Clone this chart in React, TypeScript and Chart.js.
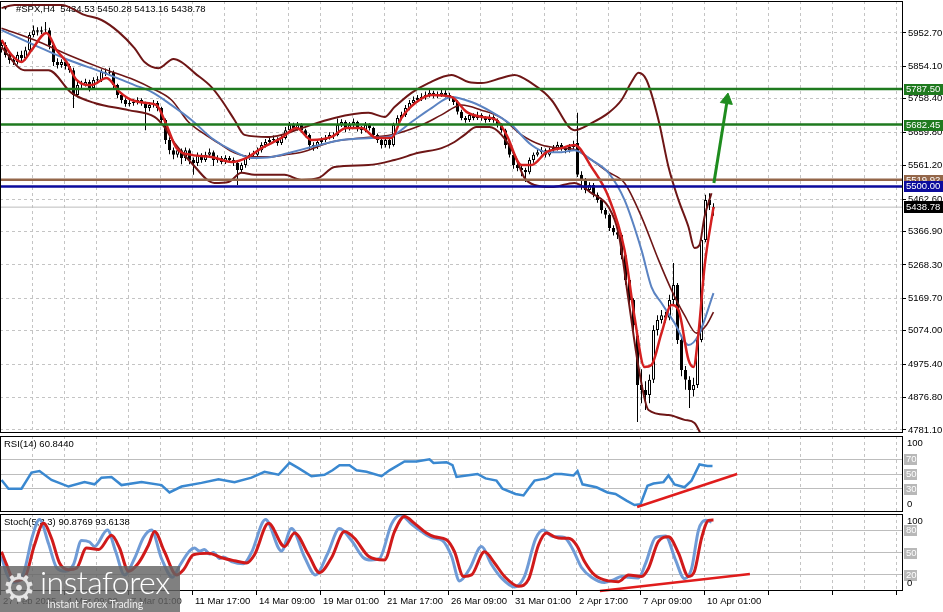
import React, { useEffect, useRef } from "react";
import { Chart, registerables } from "chart.js";
Chart.register(...registerables);

const FONT = "'Liberation Sans', 'DejaVu Sans', Arial, sans-serif";

// ---------------- data ----------------
const symbolName = "#SPX,H4";
const xTickLabels = ["27 Feb 2025", "4 Mar 09:00", "7 Mar 01:00", "11 Mar 17:00", "14 Mar 09:00", "19 Mar 01:00",
  "21 Mar 17:00", "26 Mar 09:00", "31 Mar 01:00", "2 Apr 17:00", "7 Apr 09:00", "10 Apr 01:00"];
const priceTicks = [5952.7, 5854.1, 5758.4, 5659.8, 5561.2, 5462.6, 5366.9, 5268.3, 5169.7, 5074.0, 4975.4, 4876.8, 4781.1];

const opens = [
  5905, 5917, 5888, 5873, 5867, 5888, 5879, 5902, 5947, 5961,
  5956, 5961, 5961, 5917, 5867, 5858, 5867, 5855, 5843, 5770,
  5799, 5799, 5808, 5790, 5814, 5814, 5838, 5835, 5838, 5799,
  5770, 5755, 5743, 5746, 5749, 5755, 5746, 5731, 5740, 5746,
  5731, 5696, 5637, 5607, 5593, 5607, 5584, 5607, 5578, 5569,
  5593, 5578, 5593, 5601, 5578, 5584, 5572, 5584, 5578, 5569,
  5548, 5563, 5584, 5593, 5593, 5607, 5622, 5631, 5637, 5637,
  5628, 5643, 5666, 5681, 5672, 5681, 5666, 5652, 5622, 5616,
  5631, 5637, 5643, 5652, 5652, 5681, 5690, 5672, 5681, 5690,
  5672, 5666, 5681, 5672, 5652, 5637, 5622, 5637, 5622, 5681,
  5702, 5711, 5731, 5746, 5755, 5761, 5764, 5770, 5776, 5767,
  5770, 5776, 5770, 5761, 5749, 5720, 5702, 5696, 5711, 5702,
  5711, 5702, 5696, 5705, 5696, 5681, 5666, 5622, 5593, 5563,
  5554, 5548, 5542, 5578, 5593, 5601, 5607, 5593, 5607, 5613,
  5622, 5613, 5607, 5616, 5628, 5534, 5519, 5489, 5504, 5475,
  5460, 5430, 5416, 5377, 5365, 5357, 5297, 5224, 5165, 5060,
  4914, 4899, 4884, 4929, 5076, 5106, 5120, 5112, 5165, 5209,
  5047, 4958, 4929, 4899, 4914, 5047, 5342, 5460, 5434.53];
const highs = [
  5930, 5925, 5895, 5885, 5897, 5900, 5912, 5955, 5975, 5970,
  5972, 5985, 5968, 5922, 5878, 5875, 5872, 5862, 5850, 5808,
  5812, 5818, 5815, 5822, 5825, 5846, 5848, 5850, 5842, 5803,
  5775, 5760, 5755, 5758, 5763, 5760, 5750, 5748, 5755, 5752,
  5735, 5700, 5645, 5615, 5618, 5612, 5615, 5612, 5585, 5600,
  5598, 5602, 5612, 5606, 5592, 5590, 5592, 5590, 5585, 5575,
  5570, 5592, 5600, 5605, 5615, 5630, 5640, 5648, 5650, 5645,
  5652, 5675, 5690, 5688, 5690, 5686, 5670, 5656, 5630, 5640,
  5645, 5652, 5660, 5660, 5700, 5698, 5695, 5690, 5700, 5694,
  5678, 5690, 5686, 5676, 5656, 5642, 5645, 5640, 5688, 5710,
  5720, 5740, 5755, 5765, 5770, 5775, 5780, 5786, 5782, 5780,
  5788, 5784, 5776, 5766, 5754, 5726, 5708, 5718, 5716, 5720,
  5716, 5708, 5712, 5710, 5700, 5686, 5670, 5628, 5598, 5570,
  5560, 5555, 5585, 5600, 5610, 5616, 5612, 5615, 5622, 5632,
  5628, 5618, 5625, 5635, 5717, 5545, 5525, 5512, 5510, 5482,
  5465, 5436, 5420, 5385, 5372, 5362, 5302, 5230, 5170, 5068,
  4960, 4925, 4945, 5090, 5120, 5135, 5130, 5180, 5274, 5215,
  5055, 4970, 4940, 4935, 5060, 5350, 5475, 5480, 5450.28];
const lows = [
  5895, 5880, 5862, 5858, 5860, 5870, 5872, 5896, 5940, 5945,
  5950, 5952, 5905, 5855, 5848, 5850, 5845, 5835, 5731, 5762,
  5790, 5795, 5780, 5785, 5805, 5808, 5826, 5828, 5790, 5760,
  5745, 5735, 5736, 5738, 5742, 5738, 5666, 5722, 5733, 5722,
  5688, 5625, 5595, 5580, 5585, 5565, 5575, 5565, 5534, 5560,
  5570, 5572, 5588, 5560, 5570, 5565, 5566, 5570, 5560, 5504,
  5540, 5555, 5578, 5585, 5588, 5600, 5615, 5625, 5628, 5620,
  5622, 5638, 5660, 5665, 5665, 5658, 5645, 5610, 5605, 5610,
  5625, 5630, 5638, 5640, 5648, 5675, 5660, 5665, 5675, 5662,
  5655, 5660, 5665, 5645, 5628, 5612, 5615, 5612, 5618, 5675,
  5695, 5705, 5725, 5740, 5748, 5752, 5756, 5762, 5760, 5760,
  5764, 5762, 5752, 5740, 5712, 5695, 5688, 5690, 5695, 5696,
  5694, 5688, 5690, 5688, 5674, 5658, 5612, 5585, 5552, 5545,
  5530, 5513, 5536, 5570, 5588, 5595, 5585, 5588, 5600, 5606,
  5605, 5598, 5600, 5610, 5528, 5490, 5480, 5482, 5468, 5452,
  5420, 5405, 5368, 5355, 5345, 5285, 5210, 5150, 5075, 4805,
  4860, 4840, 4860, 4920, 5060, 5095, 5098, 5105, 5150, 5035,
  4940, 4900, 4846, 4880, 4905, 5040, 5335, 5430, 5413.16];
const closes = [
  5917, 5888, 5873, 5867, 5888, 5879, 5902, 5947, 5961, 5956,
  5961, 5963, 5917, 5867, 5858, 5867, 5855, 5843, 5770, 5799,
  5801, 5808, 5790, 5814, 5816, 5838, 5835, 5838, 5799, 5770,
  5755, 5743, 5746, 5749, 5755, 5746, 5731, 5740, 5746, 5731,
  5696, 5637, 5607, 5593, 5607, 5584, 5607, 5578, 5569, 5593,
  5578, 5593, 5601, 5578, 5584, 5572, 5584, 5578, 5569, 5548,
  5563, 5584, 5593, 5595, 5607, 5622, 5631, 5637, 5640, 5628,
  5643, 5666, 5681, 5672, 5681, 5666, 5652, 5622, 5616, 5631,
  5637, 5643, 5652, 5650, 5681, 5690, 5672, 5681, 5690, 5672,
  5666, 5681, 5672, 5652, 5637, 5622, 5637, 5622, 5681, 5702,
  5711, 5731, 5746, 5755, 5761, 5764, 5770, 5776, 5767, 5770,
  5776, 5770, 5761, 5749, 5720, 5702, 5696, 5711, 5702, 5711,
  5702, 5696, 5705, 5696, 5681, 5666, 5622, 5593, 5563, 5554,
  5548, 5542, 5578, 5593, 5601, 5607, 5593, 5607, 5613, 5622,
  5613, 5607, 5616, 5622, 5534, 5519, 5489, 5504, 5475, 5460,
  5430, 5416, 5377, 5365, 5357, 5297, 5224, 5165, 5091, 4914,
  4899, 4884, 4929, 5076, 5106, 5120, 5112, 5165, 5209, 5047,
  4958, 4929, 4899, 4914, 5047, 5342, 5460, 5445, 5438.78];

const upperBandX = [0, 3.25, 15, 20.75, 25, 29.25, 33.25, 35.75, 39.25, 43, 45, 48.25, 52.5, 55, 58.25, 60.75, 66.75, 70, 75, 83.25, 91.75, 95.75, 98.25, 102.5, 106.75, 112.5, 116.75, 120, 125, 128.25, 132.5, 135.75, 137.5, 143.25, 147.5, 151.75, 155, 157.5, 159.25, 161.25, 164.25, 166.75, 169.25, 171.75, 173.25, 174.5, 175.75, 177.5];
const upperBand = [6026, 6035, 6035, 6006, 5991, 5956, 5908, 5867, 5849, 5876, 5867, 5835, 5793, 5755, 5696, 5652, 5646, 5652, 5672, 5702, 5717, 5705, 5734, 5776, 5805, 5829, 5808, 5805, 5820, 5829, 5805, 5776, 5755, 5666, 5687, 5717, 5755, 5808, 5835, 5814, 5696, 5557, 5460, 5380, 5318, 5327, 5410, 5480];
const lowerBandX = [0, 5.75, 11.75, 17.5, 23.25, 31.75, 38.25, 40.75, 43.25, 47.5, 53.25, 56.75, 60, 63.25, 70.75, 75, 79.25, 83.25, 91.75, 98.25, 104.25, 110, 113.25, 115.75, 118.75, 122, 125, 128.25, 130.75, 133.25, 137.5, 143.25, 147.5, 151.75, 154.25, 156.75, 159.25, 161.75, 166.75, 170.75, 173.25, 175];
const lowerBand = [5911, 5843, 5843, 5776, 5746, 5725, 5705, 5675, 5628, 5569, 5510, 5513, 5540, 5534, 5534, 5519, 5525, 5557, 5563, 5578, 5599, 5613, 5631, 5652, 5675, 5675, 5652, 5593, 5525, 5504, 5498, 5510, 5480, 5439, 5362, 5165, 4967, 4840, 4825, 4811, 4802, 4765];
const middleBandX = [0, 8.25, 16.75, 25, 33.25, 37.5, 42.5, 46.75, 50, 54.25, 58.25, 62.5, 66.75, 70.75, 75, 82.5, 90, 97.5, 105, 110, 115, 120, 125, 130, 135, 140, 143.75, 147.5, 151.75, 155.75, 160, 164.25, 167.5, 170.75, 173.75, 176.25, 178];
const middleBand = [5967, 5932, 5888, 5849, 5814, 5790, 5755, 5690, 5660, 5628, 5599, 5587, 5587, 5593, 5601, 5631, 5643, 5652, 5681, 5711, 5740, 5725, 5702, 5652, 5622, 5613, 5607, 5578, 5542, 5510, 5410, 5283, 5194, 5120, 5067, 5091, 5129];
const blueMaX = [0, 8.25, 16.75, 25, 33.25, 37.5, 42.5, 47.5, 52.5, 57.5, 62.5, 67.5, 72.5, 77.5, 85, 92.5, 97.5, 102.5, 107.5, 112.5, 117.5, 122.5, 127.5, 132.5, 136.25, 140, 143.25, 147.5, 151.75, 155.75, 160, 162.5, 165, 168.25, 171.75, 174.25, 178];
const blueMa = [5961, 5917, 5873, 5838, 5799, 5779, 5740, 5696, 5643, 5607, 5584, 5587, 5601, 5616, 5637, 5643, 5649, 5690, 5731, 5764, 5749, 5720, 5681, 5622, 5601, 5601, 5607, 5578, 5540, 5460, 5312, 5203, 5156, 5097, 5032, 5061, 5185];
const redMaX = [0, 2.5, 5, 7.5, 11.25, 13.75, 16.25, 18.75, 22.5, 26.25, 29.5, 32.5, 36.25, 38.75, 41.25, 43.75, 47.5, 52.5, 57.5, 61.25, 65, 70, 73.75, 77.5, 82.5, 86.25, 90, 93.75, 97.5, 100, 103.75, 107.5, 112.5, 116.25, 120, 123.75, 126.25, 130, 132.5, 136.25, 140, 143.25, 147.5, 151.75, 155.75, 158.25, 160.75, 162.5, 165, 167.5, 169.25, 171.75, 173, 174.25, 175.75, 178];
const redMa = [5932, 5888, 5867, 5902, 5953, 5902, 5867, 5814, 5799, 5820, 5779, 5755, 5746, 5740, 5681, 5613, 5593, 5587, 5572, 5584, 5613, 5643, 5672, 5637, 5646, 5672, 5672, 5643, 5643, 5702, 5749, 5770, 5764, 5720, 5705, 5696, 5652, 5563, 5563, 5601, 5613, 5622, 5557, 5469, 5312, 5115, 4967, 4973, 5067, 5150, 5135, 4988, 4967, 5067, 5262, 5439];

const levelValues = [5787.5, 5682.45, 5519.92, 5500.0];
const arrowX = [178.1, 181.3];
const arrowY = [5510, 5745];
const arrowHeadX = [181.35];
const arrowHeadY = [5755];

const rsiX = [0, 1.75, 5, 7.5, 9.5, 12.5, 16.75, 20.75, 23.25, 25, 27.5, 30, 35, 40, 42, 45, 50, 54.25, 58.25, 62.5, 65.75, 69.25, 72, 74.25, 77.5, 80.75, 82.75, 84.5, 87, 88.75, 91.25, 95, 97, 100.75, 103.75, 107, 108, 111.25, 112.75, 113.75, 116.25, 119, 121, 123.75, 125.25, 128.5, 130.5, 132, 133.25, 136.25, 138.25, 140, 143, 144, 145.25, 148.75, 151.5, 153.5, 156.25, 158.25, 159.75, 161.5, 163, 165.5, 166.75, 168.25, 170.75, 172.5, 174.5, 176.5, 177.75];
const rsiValues = [42, 30, 30, 52, 54, 42, 33, 39, 36, 45, 46, 35, 39, 35, 25, 33, 38, 43, 39, 45, 53, 49, 65, 58, 47, 49, 55, 62, 62, 55, 53, 47, 55, 67, 67, 70, 65, 66, 62, 46, 48, 50, 44, 41, 30, 23, 21, 32, 41, 44, 50, 50, 48, 54, 36, 32, 25, 23, 14, 8, 9, 34, 37, 39, 48, 36, 32, 41, 63, 61, 60.844];
const rsiLevels = [70, 50, 30];
const rsiTrendX = [158.9, 183.9];
const rsiTrendY = [5.3, 50];

const stochDX = [0, 1.25, 3.25, 5.75, 8.25, 10.5, 12.5, 14.5, 16.75, 18.75, 21.25, 24.25, 27.5, 29.5, 31.75, 34.25, 36.75, 38.25, 40.75, 43.75, 45.5, 48, 51.75, 55, 58.25, 61.25, 63.25, 66.75, 70.75, 73.25, 76.75, 79.5, 82.5, 85.75, 88.25, 91.75, 95.75, 98.25, 100.75, 103.25, 106.25, 108.25, 111.25, 113.25, 115.5, 117.5, 120.75, 123.25, 125.75, 129.25, 131.75, 134.25, 136.25, 138.25, 140, 141.75, 143.75, 145.75, 148.25, 151.75, 154.25, 156.75, 160, 161.75, 164.25, 166.75, 169.25, 171.75, 173.25, 175, 176.75, 178];
const stochD = [51, 34, 12, 16, 60, 89, 69, 36, 27, 29, 56, 54, 73, 56, 25, 36, 60, 78, 51, 20, 27, 47, 49, 43, 39, 36, 47, 89, 58, 76, 47, 23, 43, 78, 69, 45, 40, 78, 98, 89, 76, 71, 67, 51, 18, 20, 51, 36, 18, 5, 14, 60, 76, 71, 69, 69, 60, 38, 20, 12, 11, 20, 18, 29, 65, 71, 49, 18, 25, 69, 93, 93.6138];
const stochKX = [0, 1.25, 3, 5.5, 7.75, 9.5, 11.75, 13.75, 16, 18, 20, 22, 23.25, 26.5, 28.5, 30.75, 33.25, 35.5, 37.5, 40, 42.75, 44.5, 47, 48.25, 49.5, 50.75, 52, 53, 54.5, 55.5, 57.5, 60.5, 62.5, 66, 70, 72.5, 75.75, 78.5, 81.5, 84.5, 87.5, 90.5, 92.5, 94.5, 97.5, 99.75, 102.5, 105, 107.5, 110.25, 112.5, 114.5, 117, 120, 122.5, 125, 128.25, 130.75, 133.5, 135.5, 137.5, 139, 140.75, 142.75, 145, 147.5, 150.75, 153.25, 155, 156.5, 159.25, 161, 163.5, 166, 168.5, 170.75, 172.5, 174.25, 176, 177.5];
const stochK = [45, 22, 10, 22, 72, 94, 62, 30, 25, 34, 66, 64, 58, 80, 52, 20, 42, 70, 80, 42, 17, 32, 52, 56, 52, 54, 48, 50, 42, 44, 38, 35, 50, 94, 52, 82, 44, 20, 48, 82, 66, 43, 40, 42, 88, 100, 88, 78, 70, 66, 45, 12, 28, 58, 34, 16, 4, 18, 68, 80, 72, 71, 70, 55, 30, 17, 10, 14, 18, 17, 16, 35, 70, 72, 40, 15, 28, 80, 93, 90.8769];
const stochLevels = [80, 50, 20];
const stochTrendX = [149.6, 187.1];
const stochTrendY = [-1.5, 21.2];

// ---------------- layout constants ----------------
const X_MIN = -0.375;
const X_MAX = 225.375;
const PRICE_MAX = 6047.1;
const PRICE_MIN = 4772.2;
const OSC_MIN = -1.5;
const OSC_MAX = 101.5;
const gridTicks = Array.from({ length: 29 }, (_, k) => X_MIN + 8 * k);

const pts = (xs: number[], ys: number[]) => xs.map((x, i) => ({ x, y: ys[i] }));
const fmt2 = (v: number) => v.toFixed(2);

function xScale(showLabels: boolean): any {
  return {
    type: "linear",
    min: X_MIN,
    max: X_MAX,
    offset: false,
    afterBuildTicks: (s: any) => {
      s.ticks = gridTicks.map((v) => ({ value: v }));
    },
    ticks: showLabels
      ? {
          autoSkip: false,
          maxRotation: 0,
          minRotation: 0,
          align: "start",
          labelOffset: 3,
          padding: 1,
          color: "#000",
          font: { family: FONT, size: 9.5 },
          callback: (_v: any, i: number) => (i % 2 === 0 ? xTickLabels[i / 2] ?? "" : ""),
        }
      : { display: false },
    grid: {
      color: "#c4c4c4",
      lineWidth: 1,
      offset: false,
      drawTicks: showLabels,
      tickLength: 4,
      tickColor: (c: any) => (c.index % 2 === 0 ? "#000" : "rgba(0,0,0,0)"),
    },
    border: { display: false, dash: [3, 3] },
    afterFit: (s: any) => {
      s.height = showLabels ? 21 : 0;
      s.paddingLeft = 0;
      s.paddingRight = 0;
    },
  };
}

function oscYScale(levels: number[]): any {
  return {
    position: "right",
    min: OSC_MIN,
    max: OSC_MAX,
    afterBuildTicks: (s: any) => {
      s.ticks = levels.map((v) => ({ value: v }));
    },
    ticks: { display: false },
    grid: { color: "#bdbdbd", lineWidth: 1, drawTicks: false },
    border: { display: false },
    afterFit: (s: any) => {
      s.width = 40;
      s.paddingTop = 0;
      s.paddingBottom = 0;
    },
  };
}

type Box = { value: number; text: string; bg: string; fg: string; w: number; h: number };

function decor(cfg: { title?: string; boxes?: Box[]; top?: string; bottom?: string; triangle?: boolean }) {
  return {
    id: "decor",
    beforeDatasetsDraw(chart: any) {
      const { ctx, chartArea: a } = chart;
      if (!cfg.title) return;
      ctx.save();
      ctx.fillStyle = "#000";
      ctx.textBaseline = "middle";
      ctx.textAlign = "left";
      let x = 4;
      if (cfg.triangle) {
        ctx.font = `7px ${FONT}`;
        ctx.fillText("\u25BC", 2, a.top + 7);
        x = 16;
      }
      ctx.font = `9.5px ${FONT}`;
      ctx.fillText(cfg.title, x, a.top + 8);
      ctx.restore();
    },
    afterDraw(chart: any) {
      const { ctx, chartArea: a } = chart;
      const ys = chart.scales.y;
      ctx.save();
      ctx.strokeStyle = "#000";
      ctx.lineWidth = 1;
      ctx.strokeRect(a.left + 0.5, a.top + 0.5, a.right - a.left - 1, a.bottom - a.top - 1);
      ctx.font = `9.5px ${FONT}`;
      ctx.textBaseline = "middle";
      ctx.textAlign = "left";
      (cfg.boxes || []).forEach((b) => {
        const y = Math.round(ys.getPixelForValue(b.value));
        ctx.fillStyle = b.bg;
        ctx.fillRect(a.right + 1, y - Math.floor(b.h / 2), b.w, b.h);
        ctx.fillStyle = b.fg;
        ctx.fillText(b.text, a.right + 3, y + 0.5);
      });
      ctx.fillStyle = "#000";
      if (cfg.top) ctx.fillText(cfg.top, a.right + 4, a.top + 7);
      if (cfg.bottom) ctx.fillText(cfg.bottom, a.right + 4, a.bottom - 8);
      ctx.restore();
    },
  };
}

const baseOptions = (scales: any, padding: any): any => ({
  animation: false,
  responsive: false,
  devicePixelRatio: 1,
  events: [],
  layout: { padding, autoPadding: false },
  plugins: { legend: { display: false }, tooltip: { enabled: false } },
  scales,
});

const line = (data: any[], color: string, width: number, order: number, smooth = true, extra: any = {}) => ({
  type: "line",
  data,
  borderColor: color,
  borderWidth: width,
  pointRadius: 0,
  fill: false,
  cubicInterpolationMode: smooth ? "monotone" : "default",
  tension: 0,
  order,
  ...extra,
});

export default function App() {
  const mainRef = useRef<HTMLCanvasElement>(null);
  const rsiRef = useRef<HTMLCanvasElement>(null);
  const stochRef = useRef<HTMLCanvasElement>(null);

  useEffect(() => {
    document.body.style.margin = "0";
    const L = closes.length - 1;
    const idx = closes.map((_, i) => i);
    const wickData = idx.map((i) => ({ x: i, y: [lows[i], highs[i]] }));
    const bodyData = idx.map((i) => ({ x: i, y: [opens[i], closes[i]] }));
    const bodyColors = idx.map((i) => (closes[i] >= opens[i] ? "#ffffff" : "#000000"));
    const fullX = [X_MIN, X_MAX];
    const levelColors = ["#1f7a1f", "#1f7a1f", "#94674a", "#0b0b9c"];
    const levelDatasets = levelValues.map((v, k) =>
      line(pts(fullX, [v, v]), levelColors[k], 2.5, 5 - k, false)
    );

    const charts: Chart[] = [];

    charts.push(
      new Chart(mainRef.current!, {
        type: "bar",
        data: {
          datasets: [
            {
              type: "line",
              data: pts(arrowHeadX, arrowHeadY),
              showLine: false,
              pointStyle: "triangle",
              pointRadius: 7,
              pointRotation: 9,
              pointBackgroundColor: "#1e8c1e",
              pointBorderColor: "#1e8c1e",
              pointBorderWidth: 1,
              order: 0,
            } as any,
            line(pts(arrowX, arrowY), "#1e8c1e", 3, 1, false),
            ...levelDatasets,
            line(pts(redMaX, redMa), "#d42020", 2.5, 11),
            line(pts(blueMaX, blueMa), "#5b83c2", 2, 12),
            line(pts(middleBandX, middleBand), "#6e1616", 1.6, 13),
            line(pts(upperBandX, upperBand), "#6e1616", 2, 14),
            line(pts(lowerBandX, lowerBand), "#6e1616", 2, 15),
            {
              type: "bar",
              data: bodyData,
              backgroundColor: bodyColors,
              borderColor: "#000",
              borderWidth: 1,
              borderSkipped: false,
              barThickness: 3,
              grouped: false,
              inflateAmount: 0,
              order: 19,
            } as any,
            {
              type: "bar",
              data: wickData,
              backgroundColor: "#000",
              borderWidth: 0,
              barThickness: 1,
              grouped: false,
              inflateAmount: 0,
              order: 20,
            } as any,
            line(pts(fullX, [closes[L], closes[L]]), "#bdbdbd", 1, 25, false),
          ] as any,
        },
        options: baseOptions(
          {
            x: xScale(false),
            y: {
              position: "right",
              min: PRICE_MIN,
              max: PRICE_MAX,
              afterBuildTicks: (s: any) => {
                s.ticks = priceTicks.map((v) => ({ value: v }));
              },
              ticks: {
                autoSkip: false,
                color: "#000",
                padding: 2,
                font: { family: FONT, size: 9.5 },
                callback: (v: any) => fmt2(Number(v)),
              },
              grid: { color: "#c4c4c4", lineWidth: 1, tickColor: "#000", tickLength: 3 },
              border: { display: false, dash: [3, 3] },
              afterFit: (s: any) => {
                s.width = 40;
                s.paddingTop = 0;
                s.paddingBottom = 0;
              },
            },
          },
          { top: 1, bottom: 1, left: 0, right: 0 }
        ),
        plugins: [
          decor({
            triangle: true,
            title: `${symbolName}  ${fmt2(opens[L])} ${fmt2(highs[L])} ${fmt2(lows[L])} ${fmt2(closes[L])}`,
            boxes: [
              ...levelValues.map((v, k) => ({ value: v, text: fmt2(v), bg: levelColors[k], fg: "#fff", w: 39, h: 11 })),
              { value: closes[L], text: fmt2(closes[L]), bg: "#000", fg: "#fff", w: 39, h: 12 },
            ],
          }) as any,
        ],
      } as any)
    );

    charts.push(
      new Chart(rsiRef.current!, {
        type: "line",
        data: {
          datasets: [
            line(pts(rsiTrendX, rsiTrendY), "#e01c1c", 2.5, 0, false),
            line(pts(rsiX, rsiValues), "#3a88d0", 2.5, 1, false),
          ] as any,
        },
        options: baseOptions({ x: xScale(false), y: oscYScale(rsiLevels) }, { top: 1, bottom: 1, left: 0, right: 0 }),
        plugins: [
          decor({
            title: `RSI(14) ${rsiValues[rsiValues.length - 1].toFixed(4)}`,
            boxes: rsiLevels.map((v) => ({ value: v, text: String(v), bg: "#b8b8b8", fg: "#fff", w: 13, h: 11 })),
            top: "100",
            bottom: "0",
          }) as any,
        ],
      } as any)
    );

    charts.push(
      new Chart(stochRef.current!, {
        type: "line",
        data: {
          datasets: [
            line(pts(stochTrendX, stochTrendY), "#e01c1c", 2.5, 0, false, { clip: false }),
            line(pts(stochDX, stochD), "#d01a1a", 3, 1),
            line(pts(stochKX, stochK), "#6f9bd6", 3, 2),
          ] as any,
        },
        options: baseOptions({ x: xScale(true), y: oscYScale(stochLevels) }, { top: 1, bottom: 0, left: 0, right: 0 }),
        plugins: [
          decor({
            title: `Stoch(5,3,3) ${stochK[stochK.length - 1].toFixed(4)} ${stochD[stochD.length - 1].toFixed(4)}`,
            boxes: stochLevels.map((v) => ({ value: v, text: String(v), bg: "#b8b8b8", fg: "#fff", w: 13, h: 11 })),
            top: "100",
            bottom: "0",
          }) as any,
        ],
      } as any)
    );

    return () => charts.forEach((c) => c.destroy());
  }, []);

  return (
    <div style={{ position: "fixed", left: 0, top: 0, width: 943, height: 612, background: "#fff", overflow: "hidden" }}>
      <canvas ref={mainRef} width={943} height={434} style={{ position: "absolute", left: 0, top: 0 }} />
      <canvas ref={rsiRef} width={943} height={78} style={{ position: "absolute", left: 0, top: 435 }} />
      <canvas ref={stochRef} width={943} height={99} style={{ position: "absolute", left: 0, top: 513 }} />
      <div
        style={{
          position: "absolute",
          left: 0,
          top: 566,
          width: 180,
          height: 46,
          background: "rgba(100,100,100,0.82)",
          overflow: "hidden",
          color: "#fff",
          fontFamily: "Lato, 'Open Sans', sans-serif",
        }}
      >
        <span style={{ position: "absolute", left: 2, top: 0, fontSize: 38, lineHeight: "44px", fontFamily: "'DejaVu Sans'", color: "#e6e6e6" }}>
          {"\u2699"}
        </span>
        <span style={{ position: "absolute", left: 40, top: -2, fontSize: 32, lineHeight: "36px", fontWeight: 300, letterSpacing: "-0.5px", whiteSpace: "nowrap" }}>
          instaforex
        </span>
        <span style={{ position: "absolute", left: 47, top: 32, fontSize: 10.5, lineHeight: "12px", whiteSpace: "nowrap", color: "#eee" }}>
          Instant Forex Trading
        </span>
      </div>
    </div>
  );
}
